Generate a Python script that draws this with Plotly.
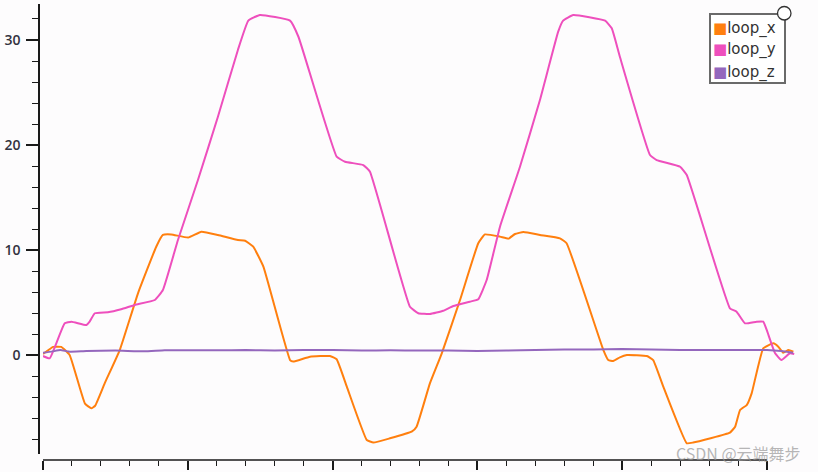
import plotly.graph_objects as go

# ---- data ----
series_names = ["loop_x", "loop_y", "loop_z"]
series_colors = ["#ff7f0e", "#ee4fbd", "#9467bd"]

loop_x_t = [0.00, 0.35, 0.63, 0.92, 1.45, 1.67, 1.80, 2.13, 2.65, 3.28, 3.91, 4.14, 4.43, 5.01,
            5.47, 6.04, 6.73, 6.98, 7.26, 7.61, 8.53, 8.64, 9.22, 9.91, 10.14, 10.49, 11.18,
            11.41, 11.98, 12.73, 12.90, 13.36, 13.77, 14.40, 15.03, 15.26, 15.78, 16.07, 16.30,
            16.59, 17.16, 17.85, 18.08, 19.35, 19.52, 19.69, 19.92, 20.16, 20.85, 21.07, 21.42,
            22.23, 22.45, 23.72, 23.90, 24.07, 24.30, 24.47, 24.87, 25.22, 25.39, 25.56, 25.74, 25.91]
loop_x_v = [0.12, 0.80, 0.80, 0.03, -4.60, -5.04, -4.80, -2.67, 0.50, 5.90, 10.33, 11.45, 11.50, 11.20,
            11.76, 11.45, 10.97, 10.90, 10.33, 8.43, -0.45, -0.60, -0.13, -0.07, -0.38, -2.98, -8.06,
            -8.30, -7.90, -7.27, -6.79, -2.67, 0.19, 5.26, 10.66, 11.50, 11.29, 11.10, 11.54,
            11.73, 11.45, 11.13, 10.66, 0.50, -0.45, -0.54, -0.19, 0.03, -0.07, -0.45, -2.98,
            -8.37, -8.30, -7.36, -6.79, -5.20, -4.73, -3.62, 0.67, 1.14, 0.82, 0.25, 0.50, 0.34]

loop_y_t = [0.00, 0.23, 0.46, 0.75, 0.98, 1.50, 1.61, 1.79, 2.24, 2.70, 3.17, 3.86, 4.14, 4.66,
            5.35, 6.04, 6.73, 7.09, 7.49, 8.53, 8.82, 10.14, 10.43, 11.06, 11.29, 12.67, 12.96,
            13.36, 13.82, 14.17, 14.74, 15.03, 15.32, 15.78, 16.47, 17.16, 17.79, 17.96, 18.31,
            19.41, 19.64, 19.92, 20.96, 21.19, 22.00, 22.23, 23.72, 23.95, 24.24, 24.64, 24.87,
            24.99, 25.28, 25.50, 25.79, 25.94]
loop_y_v = [-0.07, -0.29, 1.14, 3.04, 3.20, 2.88, 3.20, 4.00, 4.09, 4.38, 4.79, 5.26, 6.21, 10.97,
            16.68, 22.70, 29.05, 31.84, 32.38, 31.84, 30.31, 18.90, 18.42, 18.10, 17.47, 4.62, 4.00,
            3.93, 4.24, 4.69, 5.10, 5.33, 7.16, 12.24, 17.94, 24.29, 30.79, 31.84, 32.38,
            31.84, 31.11, 28.40, 19.06, 18.58, 17.94, 17.15, 4.47, 4.15, 3.04, 3.20, 3.20,
            2.41, 0.19, -0.45, 0.19, 0.12]

loop_z_t = [0.00, 0.30, 0.60, 0.90, 1.50, 2.50, 3.50, 4.20, 5.00, 6.00, 7.00, 8.00, 9.00, 10.00,
            11.00, 12.00, 13.00, 14.00, 15.00, 16.00, 17.00, 18.00, 19.00, 20.00, 21.00, 22.00,
            23.00, 24.00, 25.00, 25.50, 25.90]
loop_z_v = [0.25, 0.35, 0.50, 0.35, 0.42, 0.45, 0.38, 0.48, 0.48, 0.47, 0.50, 0.45, 0.50, 0.50,
            0.45, 0.47, 0.45, 0.45, 0.40, 0.45, 0.50, 0.55, 0.55, 0.60, 0.55, 0.50,
            0.50, 0.50, 0.50, 0.40, 0.25]

y_tick_vals = [0, 10, 20, 30]
x_major_ticks = [0, 5, 10, 15, 20, 25]
x_minor_ticks = [v for v in range(0, 26) if v % 5 != 0]
watermark = "CSDN @云端舞步"

# ---- figure ----
W, H = 818, 472
ML, MR, MT, MB = 39, 18, 4, 12
PW, PH = W - ML - MR, H - MT - MB


def px_x(p):
    return (p - ML) / PW


def px_y(p):
    return (H - MB - p) / PH


fig = go.Figure()
series = [(loop_x_t, loop_x_v), (loop_y_t, loop_y_v), (loop_z_t, loop_z_v)]
for name, color, (t, v) in zip(series_names, series_colors, series):
    fig.add_trace(go.Scatter(x=t, y=v, name=name, mode="lines",
                             line=dict(color=color, width=2, shape="spline", smoothing=0.35),
                             showlegend=False, hoverinfo="skip"))

px_per_unit = 28.96
fig.update_layout(
    width=W, height=H,
    margin=dict(l=ML, r=MR, t=MT, b=MB, autoexpand=False),
    paper_bgcolor="#fdfcfd", plot_bgcolor="#fdfcfd",
    showlegend=False,
    xaxis=dict(domain=[px_x(43), 1.0], range=[0, (800 - 43) / px_per_unit],
               anchor="free", position=0, showgrid=False, zeroline=False, automargin=False,
               showline=False,
               ticks="outside", ticklen=9, tickwidth=1.5, tickcolor="#1a1a1a",
               tickmode="array", tickvals=x_major_ticks, showticklabels=False,
               minor=dict(tickmode="array", tickvals=x_minor_ticks, ticks="outside",
                          ticklen=5, tickwidth=1.2, tickcolor="#1a1a1a", showgrid=False)),
    yaxis=dict(domain=[px_y(454), 1.0],
               range=[-(454 - 355.3) / 10.51, (355.3 - 4) / 10.51],
               anchor="free", position=0, showgrid=False, zeroline=False, automargin=False,
               showline=True, linecolor="#1a1a1a", linewidth=1.5,
               ticks="outside", ticklen=12, tickwidth=1.5, tickcolor="#1a1a1a",
               tickvals=y_tick_vals, ticktext=[str(v) for v in y_tick_vals],
               tickfont=dict(family="Open Sans", size=14, color="#33333f", weight=600),
               ticklabelstandoff=3,
               minor=dict(dtick=2, tick0=0, ticks="outside", ticklen=6, tickwidth=1.2,
                          tickcolor="#1a1a1a", showgrid=False)),
)

shapes = [
    # bottom axis line, ending at the last major tick as in the original
    dict(type="line", xref="x", yref="paper", x0=x_major_ticks[0], x1=x_major_ticks[-1],
         y0=0, y1=0, line=dict(color="#1a1a1a", width=1.5), layer="above"),
    # legend box (drawn to match the original widget)
    dict(type="rect", xref="paper", yref="paper",
         x0=px_x(710), x1=px_x(785), y0=px_y(83), y1=px_y(14),
         line=dict(color="#6a6a6a", width=2), fillcolor="#ffffff", layer="above"),
    dict(type="circle", xref="paper", yref="paper",
         x0=px_x(777.5), x1=px_x(791), y0=px_y(20), y1=px_y(6.5),
         line=dict(color="#333333", width=1.3), fillcolor="#ffffff", layer="above"),
]
fig.update_layout(shapes=shapes)

row_centers = [28, 50, 72]
for name, color, yc in zip(series_names, series_colors, row_centers):
    fig.add_annotation(xref="paper", yref="paper", x=px_x(711), y=px_y(yc),
                       xanchor="left", yanchor="middle", showarrow=False,
                       text=f"<span style='color:{color}'>■</span>{name}",
                       font=dict(family="DejaVu Sans", size=15, color="#333333"))

fig.add_annotation(xref="paper", yref="paper", x=px_x(803), y=px_y(453),
                   xanchor="right", yanchor="middle", showarrow=False,
                   text=watermark,
                   font=dict(family="Noto Sans CJK SC", size=16, color="rgba(150,150,150,0.7)"))

fig.write_html("out.html", config={"displayModeBar": False},
               post_script="document.body.style.margin='0';")
